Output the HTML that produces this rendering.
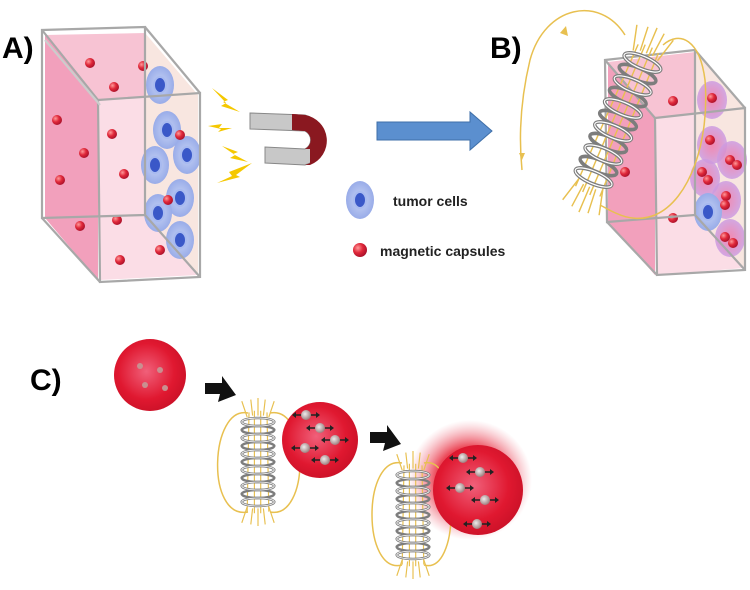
<!DOCTYPE html>
<html><head><meta charset="utf-8"><style>
html,body{margin:0;padding:0;background:#fff;width:750px;height:590px;overflow:hidden}
svg{display:block}
text{font-family:"Liberation Sans",sans-serif}
</style></head><body>
<svg width="750" height="590" viewBox="0 0 750 590" xmlns="http://www.w3.org/2000/svg">
<defs>
<radialGradient id="rb" cx="35%" cy="35%" r="70%"><stop offset="0" stop-color="#ff9a9a"/><stop offset="0.5" stop-color="#e0283a"/><stop offset="1" stop-color="#a8102a"/></radialGradient>
<radialGradient id="bs" cx="45%" cy="45%" r="65%"><stop offset="0" stop-color="#f0607a"/><stop offset="0.6" stop-color="#e01830"/><stop offset="1" stop-color="#c40f25"/></radialGradient>
<radialGradient id="cell" cx="50%" cy="50%" r="60%"><stop offset="0" stop-color="#c9d4f5"/><stop offset="1" stop-color="#8fa4e6"/></radialGradient>
<radialGradient id="pc" cx="50%" cy="50%" r="55%"><stop offset="0" stop-color="#f07aa8"/><stop offset="1" stop-color="#c8a0e8"/></radialGradient>
<radialGradient id="fz" cx="50%" cy="50%" r="50%"><stop offset="0.55" stop-color="#e8283a" stop-opacity="0.85"/><stop offset="1" stop-color="#f08090" stop-opacity="0"/></radialGradient>
<radialGradient id="gb" cx="40%" cy="40%" r="60%"><stop offset="0" stop-color="#eee"/><stop offset="1" stop-color="#a08080"/></radialGradient>
<g id="cap"><circle r="5" fill="url(#rb)"/></g>
<g id="tc"><ellipse rx="14" ry="19" fill="url(#cell)"/><ellipse rx="6" ry="8" fill="#3a58c8" stroke="#a8baf0" stroke-width="2"/></g>
<g id="pcell"><ellipse rx="15" ry="19" fill="url(#pc)" opacity="0.85"/></g>
<g id="coil">
<g stroke="#e8c050" stroke-width="1.3" fill="none">
<path d="M-10,-62 L-12,62 M-4,-64 L-4,64 M3,-64 L3,64 M10,-62 L12,62"/>
</g>
<g fill="none" stroke="#7d7d7d" stroke-width="3">
<ellipse cx="0" cy="-50" rx="18" ry="5"/><ellipse cx="0" cy="-40" rx="18" ry="5"/><ellipse cx="0" cy="-30" rx="18" ry="5"/>
<ellipse cx="0" cy="-20" rx="18" ry="5"/><ellipse cx="0" cy="-10" rx="18" ry="5"/><ellipse cx="0" cy="0" rx="18" ry="5"/>
<ellipse cx="0" cy="10" rx="18" ry="5"/><ellipse cx="0" cy="20" rx="18" ry="5"/><ellipse cx="0" cy="30" rx="18" ry="5"/>
<ellipse cx="0" cy="40" rx="18" ry="5"/><ellipse cx="0" cy="50" rx="18" ry="5"/>
</g>
<g fill="none" stroke="#fff" stroke-width="1">
<ellipse cx="0" cy="-50" rx="18" ry="5"/><ellipse cx="0" cy="-30" rx="18" ry="5"/><ellipse cx="0" cy="-10" rx="18" ry="5"/>
<ellipse cx="0" cy="10" rx="18" ry="5"/><ellipse cx="0" cy="30" rx="18" ry="5"/><ellipse cx="0" cy="50" rx="18" ry="5"/>
</g>
<g stroke="#e8c050" stroke-width="1.3" fill="none">
<path d="M-12,-56 L-18,-76 M-6,-58 L-8,-78 M0,-58 L0,-80 M6,-58 L8,-78 M12,-56 L18,-76"/>
<path d="M-12,56 L-18,76 M-6,58 L-8,78 M0,58 L0,80 M6,58 L8,78 M12,56 L18,76"/>
</g>
</g>
<g id="mp"><path d="M-12,0 h24" stroke="#222" stroke-width="1.5"/><path d="M-14,0 l4,-3 v6z M14,0 l-4,-3 v6z" fill="#222"/><circle r="5" fill="url(#gb)"/></g>
</defs>

<!-- A box -->
<polygon points="45,35 145,33 145,215 45,218" fill="#f7c3d3"/>
<polygon points="45,35 98,100 98,280 45,218" fill="#f2a0bc"/>
<polygon points="98,100 198,95 198,275 100,280" fill="#fbdde6"/>
<polygon points="145,33 198,95 198,275 145,215" fill="#f8e6e0"/>
<use href="#cap" x="90" y="63"/><use href="#cap" x="114" y="87"/><use href="#cap" x="143" y="66"/>
<use href="#cap" x="57" y="120"/><use href="#cap" x="84" y="153"/><use href="#cap" x="112" y="134"/>
<use href="#cap" x="60" y="180"/><use href="#cap" x="124" y="174"/><use href="#cap" x="80" y="226"/>
<use href="#cap" x="117" y="220"/><use href="#cap" x="120" y="260"/><use href="#cap" x="160" y="250"/>
<use href="#tc" x="160" y="85"/><use href="#tc" x="167" y="130"/><use href="#tc" x="187" y="155"/>
<use href="#tc" x="155" y="165"/><use href="#tc" x="180" y="198"/><use href="#tc" x="158" y="213"/><use href="#tc" x="180" y="240"/>
<use href="#cap" x="180" y="135"/><use href="#cap" x="168" y="200"/>
<g fill="none" stroke="#a8a8a8" stroke-width="2.2">
<polygon points="42,30 145,27 145,215 42,218"/>
<polygon points="98,100 200,93 200,277 100,282"/>
<line x1="42" y1="30" x2="98" y2="100"/><line x1="145" y1="27" x2="200" y2="93"/>
<line x1="42" y1="218" x2="100" y2="282"/><line x1="145" y1="215" x2="200" y2="277"/>
<line x1="45" y1="40" x2="100" y2="105" stroke="#ccc"/>
</g>
<text x="2" y="58" font-size="30" font-weight="bold">A)</text>
<!-- lightning -->
<g fill="#f5c800">
<polygon points="212,88 228,100 223,102 240,112 221,106 226,103"/>
<polygon points="208,126 222,124 219,128 232,128 218,132 221,129"/>
<polygon points="222,146 238,152 233,154 248,162 230,158 235,155"/>
<polygon points="217,183 232,176 229,172 252,163 236,175 240,177"/>
</g>
<!-- magnet -->
<path d="M250,113 L305,115 A26,26 0 0 1 305,165 L265,163 L265,147 L305,149 A10,10 0 0 0 305,131 L250,129 Z" fill="#c8c8c8" stroke="#888"/>
<path d="M292,114 L305,115 A26,26 0 0 1 305,165 L310,165 L310,149 L305,149 A10,10 0 0 0 305,131 L292,130 Z" fill="#8a1820"/>
<path d="M292,114 L305,115 A26,26 0 0 1 310,165 L310,149 A10,10 0 0 0 305,131 L292,130 Z" fill="#8a1820"/>
<!-- blue arrow -->
<polygon points="377,122 470,122 470,112 492,131 470,150 470,140 377,140" fill="#5b8fcf" stroke="#3f6fa8"/>
<!-- legend -->
<use href="#tc" x="360" y="200"/>
<text x="393" y="206" font-size="14" font-weight="bold" fill="#222">tumor cells</text>
<circle cx="360" cy="250" r="7" fill="url(#rb)"/>
<text x="380" y="256" font-size="14" font-weight="bold" fill="#222">magnetic capsules</text>

<!-- B box -->
<polygon points="608,62 695,52 695,215 608,222" fill="#f7c3d3"/>
<polygon points="608,62 655,118 655,275 608,222" fill="#f2a0bc"/>
<polygon points="655,118 745,108 745,268 657,275" fill="#fbdde6"/>
<polygon points="695,52 745,108 745,268 695,215" fill="#f8e6e0"/>
<use href="#cap" x="673" y="101"/><use href="#cap" x="625" y="172"/><use href="#cap" x="673" y="218"/>
<use href="#pcell" x="712" y="100"/><use href="#pcell" x="712" y="145"/><use href="#pcell" x="732" y="160"/>
<use href="#pcell" x="705" y="178"/><use href="#pcell" x="726" y="200"/><use href="#tc" x="708" y="212"/><use href="#pcell" x="730" y="238"/>
<use href="#cap" x="712" y="98"/><use href="#cap" x="710" y="140"/><use href="#cap" x="730" y="160"/><use href="#cap" x="737" y="165"/>
<use href="#cap" x="702" y="172"/><use href="#cap" x="708" y="180"/><use href="#cap" x="726" y="196"/><use href="#cap" x="725" y="205"/>
<use href="#cap" x="725" y="237"/><use href="#cap" x="733" y="243"/>
<g fill="none" stroke="#a8a8a8" stroke-width="2.2">
<polygon points="605,60 695,50 695,215 607,222"/>
<polygon points="655,118 745,108 745,270 657,275"/>
<line x1="605" y1="60" x2="655" y2="118"/><line x1="695" y1="50" x2="745" y2="108"/>
<line x1="607" y1="222" x2="657" y2="275"/><line x1="695" y1="215" x2="745" y2="270"/>
</g>
<!-- B field lines -->
<g fill="none" stroke="#e8c050" stroke-width="1.5">
<path d="M625,35 C600,-5 545,5 530,60 C518,110 520,150 522,170"/>
<path d="M663,45 C680,30 700,40 705,80 C710,140 690,200 655,215 C630,225 610,210 600,205"/>
</g>
<g fill="#e8c050"><polygon points="560,33 566,26 568,36"/><polygon points="519,153 525,153 522,160"/></g>
<text x="490" y="58" font-size="30" font-weight="bold">B)</text>
<g transform="translate(618,120) rotate(23)"><use href="#coil" transform="scale(1.1,1.25)"/></g>

<!-- C -->
<text x="30" y="390" font-size="30" font-weight="bold">C)</text>
<circle cx="150" cy="375" r="36" fill="url(#bs)"/>
<g fill="#c89090"><circle cx="140" cy="366" r="3"/><circle cx="160" cy="370" r="3"/><circle cx="145" cy="385" r="3"/><circle cx="165" cy="388" r="3"/></g>
<polygon points="205,383 222,383 222,376 236,395 218,402 220,394 205,394" fill="#111"/>
<!-- coil 1 -->
<path d="M248,413 C210,405 205,520 248,512 M270,413 C310,405 310,520 270,512" fill="none" stroke="#e8c050" stroke-width="1.5"/>
<use href="#coil" transform="translate(258,462) scale(0.9,0.8)"/>
<circle cx="320" cy="440" r="38" fill="url(#bs)"/>
<use href="#mp" x="306" y="415"/><use href="#mp" x="320" y="428"/><use href="#mp" x="335" y="440"/><use href="#mp" x="305" y="448"/><use href="#mp" x="325" y="460"/>
<polygon points="370,432 387,432 387,425 401,444 383,451 385,443 370,443" fill="#111"/>
<!-- coil 2 -->
<ellipse cx="470" cy="480" rx="62" ry="60" fill="url(#fz)"/>
<path d="M402,463 C362,455 362,575 402,565 M424,463 C460,455 460,575 424,565" fill="none" stroke="#e8c050" stroke-width="1.5"/>
<circle cx="478" cy="490" r="45" fill="url(#bs)"/>
<use href="#coil" transform="translate(413,515) scale(0.9,0.8)"/>
<use href="#mp" x="463" y="458"/><use href="#mp" x="480" y="472"/><use href="#mp" x="460" y="488"/><use href="#mp" x="485" y="500"/><use href="#mp" x="477" y="524"/>
</svg>
</body></html>
